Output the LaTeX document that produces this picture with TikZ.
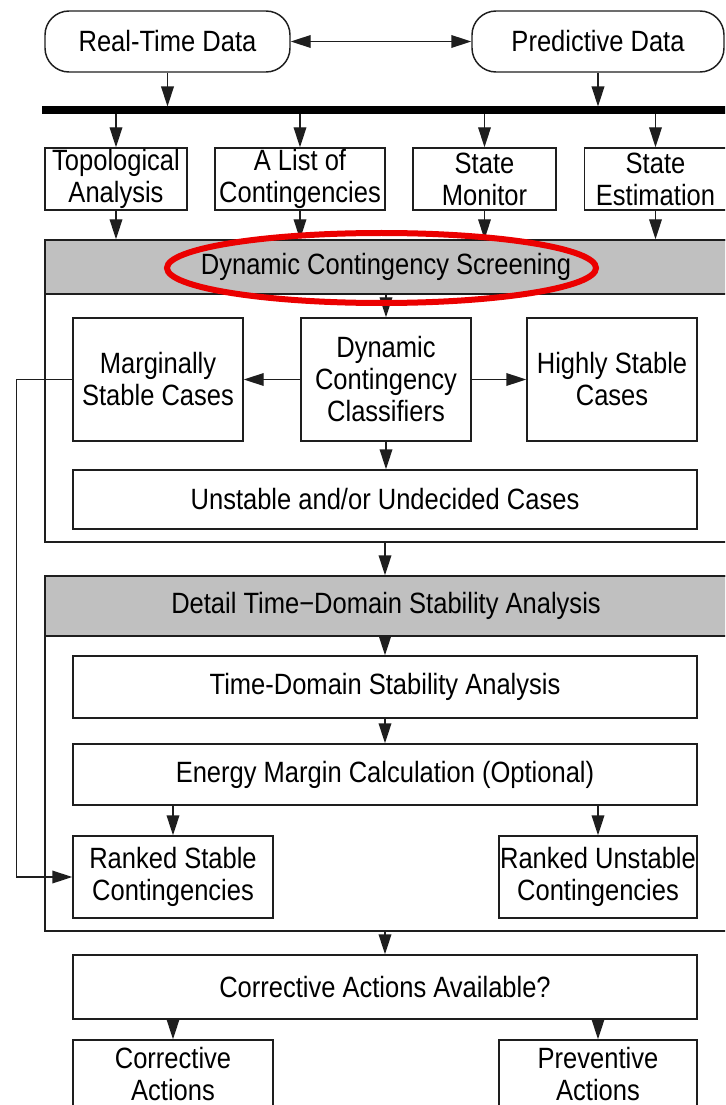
\documentclass[tikz,border=0pt]{standalone}
\usepackage{fontspec}
\setmainfont{Liberation Sans}[FakeStretch=0.87]
\usetikzlibrary{arrows.meta,shapes.geometric}
\definecolor{headgray}{RGB}{192,192,192}
\definecolor{linegray}{RGB}{30,30,30}
\definecolor{ringred}{RGB}{235,0,0}
\begin{document}
\begin{tikzpicture}[x=0.75pt,y=-0.75pt,
  line width=1.1pt, draw=linegray,
  >={Triangle[length=15pt,width=9.5pt]},
  box/.style={draw=linegray, rectangle, inner sep=0pt, align=center,
    font=\fontsize{22}{24}\selectfont},
  pill/.style={box, rounded corners=18pt},
  head/.style={box, fill=headgray},
  frame/.style={draw=linegray, rectangle, inner sep=0pt}
]
\useasboundingbox (0,0) rectangle (725,1105);
\clip (0,0) rectangle (725,1105);

% top data sources
\node[pill, minimum width=183.75pt, minimum height=45.75pt] (RT) at (167.5,41.5) {Real-Time Data};
\node[pill, minimum width=189pt, minimum height=45.75pt] (PD) at (598,41.5) {Predictive Data};
\draw[<->] (RT) -- (PD);

% bus
\coordinate (busL) at (42,110.5);
\coordinate (busR) at (740,110.5);
\coordinate (busT) at (0,106.5);
\coordinate (busB) at (0,114.5);
\draw[line width=6pt, draw=black] (busL) -- (busR);
\draw[->] (RT.south) -- (RT.south |- busT);
\draw[->] (PD.south) -- (PD.south |- busT);

% second row
\node[box, minimum width=106.5pt, minimum height=46.5pt] (Topo) at (116,179) {Topological\\Analysis};
\node[box, minimum width=127.5pt, minimum height=46.5pt] (List) at (300,179) {A List of\\Contingencies};
\node[box, minimum width=107.25pt, minimum height=46.5pt] (Mon) at (484.5,179) {State\\Monitor};
\node[box, minimum width=106.5pt, minimum height=46.5pt] (Est) at (655.5,179) {State\\Estimation};
\foreach \n in {Topo,List,Mon,Est}{
  \draw[->] (\n.north |- busB) -- (\n.north);
}

% section 1
\node[frame, minimum width=511.5pt, minimum height=226.5pt] (F1) at (386,391) {};
\node[head, minimum width=511.5pt, minimum height=40.5pt] (H1) at (386,267) {Dynamic Contingency Screening};
\foreach \n in {Topo,List,Mon,Est}{
  \draw[->] (\n.south) -- (\n.south |- H1.north);
}
\node[box, minimum width=127.5pt, minimum height=92.25pt] (Marg) at (158,379.5) {Marginally\\Stable Cases};
\node[box, minimum width=127.5pt, minimum height=92.25pt] (Class) at (386,379.5) {Dynamic\\Contingency\\Classifiers};
\node[box, minimum width=127.5pt, minimum height=92.25pt] (High) at (612,379.5) {Highly Stable\\Cases};
\node[box, minimum width=468pt, minimum height=44.25pt] (Unst) at (385,499.5) {Unstable and/or Undecided Cases};
\draw[->] (Class.north |- H1.south) -- (Class.north);
\draw[->] (Class) -- (Marg);
\draw[->] (Class) -- (High);
\draw[->] (Class.south) -- (Class.south |- Unst.north);

% section 2
\node[frame, minimum width=511.5pt, minimum height=266.25pt] (F2) at (386,753.5) {};
\node[head, minimum width=511.5pt, minimum height=45pt] (H2) at (386,606) {Detail Time−Domain Stability Analysis};
\draw[->] (Unst.south |- F1.south) -- (Unst.south |- H2.north);
\node[box, minimum width=468pt, minimum height=46.5pt] (TDSA) at (385,687) {Time-Domain Stability Analysis};
\node[box, minimum width=468pt, minimum height=45.75pt] (EMC) at (385,774.5) {Energy Margin Calculation (Optional)};
\node[box, minimum width=150pt, minimum height=61.5pt] (RS) at (173,877) {Ranked Stable\\Contingencies};
\node[box, minimum width=148.5pt, minimum height=61.5pt] (RU) at (598,877) {Ranked Unstable\\Contingencies};
\draw[->] (TDSA.north |- H2.south) -- (TDSA.north);
\draw[->] (TDSA) -- (EMC);
\draw[->] (RS.north |- EMC.south) -- (RS.north);
\draw[->] (RU.north |- EMC.south) -- (RU.north);

% feedback from marginally stable cases
\draw[->] (Marg.west) -- ++(-56,0) |- (RS.west);

% bottom
\node[box, minimum width=468pt, minimum height=48pt] (CAA) at (385,987) {Corrective Actions Available?};
\draw[->] (CAA.north |- F2.south) -- (CAA.north);
\node[box, minimum width=150pt, minimum height=51pt, text depth=0pt] (CA) at (173,1074) {Corrective\\Actions};
\node[box, minimum width=148.5pt, minimum height=51pt, text depth=0pt] (PA) at (598,1074) {Preventive\\Actions};
\draw[->] (CA.north |- CAA.south) -- (CA.north);
\draw[->] (PA.north |- CAA.south) -- (PA.north);

% red highlight ring
\node[ellipse, draw=ringred, line width=4.5pt, inner sep=0pt,
      minimum width=321.75pt, minimum height=52.5pt] (ring) at (381.5,268) {};
\end{tikzpicture}
\end{document}
